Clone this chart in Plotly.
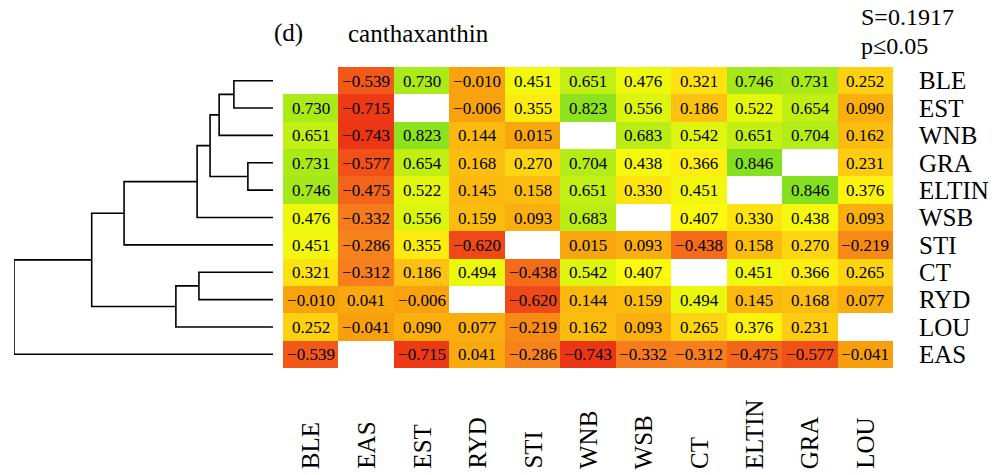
import plotly.graph_objects as go

# ---------------- data ----------------
col_labels = ["BLE", "EAS", "EST", "RYD", "STI", "WNB", "WSB", "CT", "ELTIN", "GRA", "LOU"]
row_labels = ["BLE", "EST", "WNB", "GRA", "ELTIN", "WSB", "STI", "CT", "RYD", "LOU", "EAS"]

row_BLE = [None, -0.539, 0.730, -0.010, 0.451, 0.651, 0.476, 0.321, 0.746, 0.731, 0.252]
row_EST = [0.730, -0.715, None, -0.006, 0.355, 0.823, 0.556, 0.186, 0.522, 0.654, 0.090]
row_WNB = [0.651, -0.743, 0.823, 0.144, 0.015, None, 0.683, 0.542, 0.651, 0.704, 0.162]
row_GRA = [0.731, -0.577, 0.654, 0.168, 0.270, 0.704, 0.438, 0.366, 0.846, None, 0.231]
row_ELTIN = [0.746, -0.475, 0.522, 0.145, 0.158, 0.651, 0.330, 0.451, None, 0.846, 0.376]
row_WSB = [0.476, -0.332, 0.556, 0.159, 0.093, 0.683, None, 0.407, 0.330, 0.438, 0.093]
row_STI = [0.451, -0.286, 0.355, -0.620, None, 0.015, 0.093, -0.438, 0.158, 0.270, -0.219]
row_CT = [0.321, -0.312, 0.186, 0.494, -0.438, 0.542, 0.407, None, 0.451, 0.366, 0.265]
row_RYD = [-0.010, 0.041, -0.006, None, -0.620, 0.144, 0.159, 0.494, 0.145, 0.168, 0.077]
row_LOU = [0.252, -0.041, 0.090, 0.077, -0.219, 0.162, 0.093, 0.265, 0.376, 0.231, None]
row_EAS = [-0.539, None, -0.715, 0.041, -0.286, -0.743, -0.332, -0.312, -0.475, -0.577, -0.041]

z = [row_BLE, row_EST, row_WNB, row_GRA, row_ELTIN, row_WSB,
     row_STI, row_CT, row_RYD, row_LOU, row_EAS]

# dendrogram merges: (left, right, height); leaves by name, clusters by "c<index>"
merges = [
    ("BLE", "EST", 0.151),
    ("c0", "WNB", 0.208),
    ("GRA", "ELTIN", 0.097),
    ("c1", "c2", 0.243),
    ("c3", "WSB", 0.293),
    ("c4", "STI", 0.575),
    ("CT", "RYD", 0.286),
    ("c6", "LOU", 0.375),
    ("c5", "c7", 0.700),
    ("c8", "EAS", 1.000),
]

title_left = "(d)"
title_main = "canthaxanthin"
stat_S = "S=0.1917"
stat_p = "p≤0.05"

# ---------------- styling ----------------
FONT = "Liberation Serif, Times New Roman, serif"
W, H = 1002, 475

def px_x(p):
    return p / W

def px_y(p):
    return 1 - p / H

cs_vals = [-0.75, -0.60, -0.45, -0.30, -0.15, 0.0, 0.1, 0.2, 0.3, 0.4, 0.5, 0.6, 0.7, 0.85]
cs_cols = ["#ec3414", "#f04c18", "#f46a1a", "#f6801c", "#f8920e", "#f8a40e", "#fab00e",
           "#fcc412", "#fedc10", "#fdf80e", "#e8f80c", "#d0f212", "#b4ec16", "#84e020"]
zmin, zmax = cs_vals[0], cs_vals[-1]
colorscale = [[(v - zmin) / (zmax - zmin), c] for v, c in zip(cs_vals, cs_cols)]

def fmt(v):
    if v is None:
        return ""
    s = f"{abs(v):.3f}"
    return ("\u2212" + s) if v < 0 else s

text = [[fmt(v) for v in row] for row in z]

fig = go.Figure()

fig.add_trace(go.Heatmap(
    z=z, x=list(range(len(col_labels))), y=list(range(len(row_labels))),
    text=text, texttemplate="%{text}",
    textfont=dict(family=FONT, size=17, color="black"),
    colorscale=colorscale, zmin=zmin, zmax=zmax,
    showscale=False, hoverongaps=False, xgap=0, ygap=0,
))

# ---------------- dendrogram ----------------
pos = {name: (0.0, float(i)) for i, name in enumerate(row_labels)}
xs, ys = [], []
for k, (a, b, h) in enumerate(merges):
    xa, ya = pos[a]
    xb, yb = pos[b]
    xs += [xa, h, h, xb, None]
    ys += [ya, ya, yb, yb, None]
    pos[f"c{k}"] = (h, (ya + yb) / 2)

fig.add_trace(go.Scatter(
    x=xs, y=ys, mode="lines", xaxis="x2", yaxis="y",
    line=dict(color="black", width=1.6), hoverinfo="skip", showlegend=False,
))

n_rows = len(row_labels)
n_cols = len(col_labels)

fig.update_layout(
    width=W, height=H,
    margin=dict(l=0, r=0, t=0, b=0),
    paper_bgcolor="white", plot_bgcolor="white",
    font=dict(family=FONT, color="black"),
    xaxis=dict(domain=[px_x(283), px_x(893)], range=[-0.5, n_cols - 0.5],
               showticklabels=False, showgrid=False, zeroline=False, ticks="",
               anchor="y"),
    yaxis=dict(domain=[px_y(368), px_y(67)], range=[n_rows - 0.5, -0.5],
               side="right", tickmode="array", tickvals=list(range(n_rows)),
               ticktext=row_labels, ticks="outside", ticklen=20,
               tickcolor="rgba(0,0,0,0)", tickfont=dict(family=FONT, size=25),
               showgrid=False, zeroline=False, anchor="x"),
    xaxis2=dict(domain=[px_x(14), px_x(273)], range=[1.0, 0.0], anchor="y",
                visible=False, showgrid=False, zeroline=False),
)

annotations = []
for i, lab in enumerate(col_labels):
    annotations.append(dict(
        x=i, xref="x", y=px_y(471), yref="paper", text=lab, textangle=-90,
        xanchor="center", yanchor="bottom", showarrow=False,
        font=dict(family=FONT, size=25, color="black"),
    ))

annotations += [
    dict(x=px_x(272), y=px_y(33), xref="paper", yref="paper", text=title_left,
         xanchor="left", yanchor="middle", showarrow=False,
         font=dict(family=FONT, size=25, color="black")),
    dict(x=px_x(346), y=px_y(33), xref="paper", yref="paper", text=title_main,
         xanchor="left", yanchor="middle", showarrow=False,
         font=dict(family=FONT, size=25, color="black")),
    dict(x=px_x(860), y=px_y(17), xref="paper", yref="paper", text=stat_S,
         xanchor="left", yanchor="middle", showarrow=False, borderpad=0,
         font=dict(family=FONT, size=24, color="black")),
    dict(x=px_x(860), y=px_y(46), xref="paper", yref="paper", text=stat_p,
         xanchor="left", yanchor="middle", showarrow=False, borderpad=0,
         font=dict(family=FONT, size=24, color="black")),
]
fig.update_layout(annotations=annotations)

fig.write_html("out.html",
               config={"displayModeBar": False},
               post_script="document.body.style.margin='0px';document.body.style.overflow='hidden';")
